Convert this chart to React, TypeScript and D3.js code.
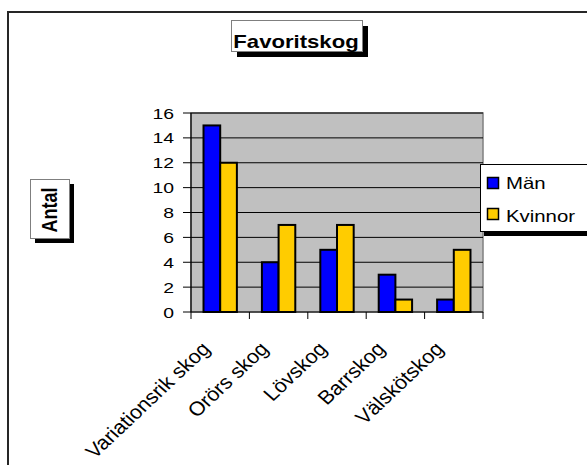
import React from "react";
import * as d3 from "d3";

const categories = ["Variationsrik skog", "Orörs skog", "Lövskog", "Barrskog", "Välskötskog"];
const seriesNames = ["Män", "Kvinnor"];
const man = [15, 4, 5, 3, 1];
const kvinnor = [12, 7, 7, 1, 5];
const yTicks = [0, 2, 4, 6, 8, 10, 12, 14, 16];
const colors = ["#0000ff", "#ffcc00"];

const W = 587;
const H = 465;
const S = 1.25; // horizontal stretch of text
const FONT = "'Liberation Sans', Arial, sans-serif";

export default function App() {
  const plot = { left: 191, right: 483, top: 113, bottom: 312 };
  const x0 = d3.scaleBand<string>().domain(categories).range([plot.left, plot.right]).paddingInner(0).paddingOuter(0);
  const x1 = d3.scaleBand<string>().domain(seriesNames).range([0, x0.bandwidth()]).paddingInner(0).paddingOuter(0.75);
  const y = d3.scaleLinear().domain([0, 16]).range([plot.bottom, plot.top]);
  const values = [man, kvinnor];
  const boundaries = [...categories.map((c) => x0(c) as number), plot.right];

  return (
    <svg width={W} height={H} style={{ position: "absolute", left: 0, top: 0 }} fontFamily={FONT}>
      <rect x={0} y={0} width={W} height={H} fill="#fff" />
      {/* outer frame */}
      <rect x={8} y={12} width={W + 20} height={H + 20} fill="none" stroke="#262626" strokeWidth={2} />

      {/* title */}
      <rect x={237} y={26} width={131} height={31} fill="#000" />
      <rect x={231.5} y={20.5} width={131} height={31} fill="#fff" stroke="#7f7f7f" strokeWidth={1} />
      <text transform={`translate(296,48.3) scale(${S},1)`} textAnchor="middle" fontSize={17.7} fontWeight="bold">Favoritskog</text>

      {/* y axis title */}
      <rect x={35} y={184} width={39} height={59} fill="#000" />
      <rect x={30.5} y={179.5} width={39} height={59} fill="#fff" stroke="#7f7f7f" strokeWidth={1} />
      <text transform={`translate(56.5,210) scale(${S},1) rotate(-90)`} textAnchor="middle" fontSize={18} fontWeight="bold">Antal</text>

      {/* plot area */}
      <rect x={plot.left} y={plot.top} width={plot.right - plot.left} height={plot.bottom - plot.top} fill="#c0c0c0" stroke="#808080" strokeWidth={1.5} />
      {yTicks.filter((t) => t > 0).map((t) => (
        <line key={t} x1={plot.left} x2={plot.right} y1={y(t)} y2={y(t)} stroke="#000" strokeWidth={1} />
      ))}

      {/* bars */}
      {categories.map((c, i) => (
        <g key={c}>
          {seriesNames.map((s, j) => (
            <rect key={s}
              x={(x0(c) as number) + (x1(s) as number)}
              y={y(values[j][i])}
              width={x1.bandwidth()}
              height={y(0) - y(values[j][i])}
              fill={colors[j]} stroke="#000" strokeWidth={2} />
          ))}
        </g>
      ))}

      {/* axes */}
      <line x1={plot.left} x2={plot.left} y1={plot.top} y2={plot.bottom} stroke="#000" strokeWidth={1.2} />
      <line x1={plot.left} x2={plot.right} y1={plot.bottom} y2={plot.bottom} stroke="#000" strokeWidth={1.2} />
      {yTicks.map((t) => (
        <g key={t}>
          <line x1={183} x2={plot.left} y1={y(t)} y2={y(t)} stroke="#000" strokeWidth={1} />
          <text transform={`translate(174,${y(t) + 5.6}) scale(${S},1)`} textAnchor="end" fontSize={15.5}>{t}</text>
        </g>
      ))}
      {boundaries.map((b, i) => (
        <line key={i} x1={b} x2={b} y1={plot.bottom} y2={plot.bottom + 7} stroke="#000" strokeWidth={1} />
      ))}
      {categories.map((c) => {
        const cx = (x0(c) as number) + x0.bandwidth() / 2;
        return (
          <text key={c} transform={`translate(${cx - 9},${plot.bottom + 38}) scale(1.1,1) rotate(-46)`} textAnchor="end" fontSize={19.5}>{c}</text>
        );
      })}

      {/* legend */}
      <rect x={484} y={169} width={120} height={67} fill="#000" />
      <rect x={480.5} y={164.5} width={120} height={67} fill="#fff" stroke="#000" strokeWidth={1} />
      {seriesNames.map((s, j) => (
        <g key={s}>
          <rect x={487.5} y={177.5 + j * 31} width={11} height={11} fill={colors[j]} stroke="#000" strokeWidth={1.5} />
          <text transform={`translate(506,${189 + j * 32.5}) scale(${S},1)`} fontSize={16.3}>{s}</text>
        </g>
      ))}
    </svg>
  );
}
